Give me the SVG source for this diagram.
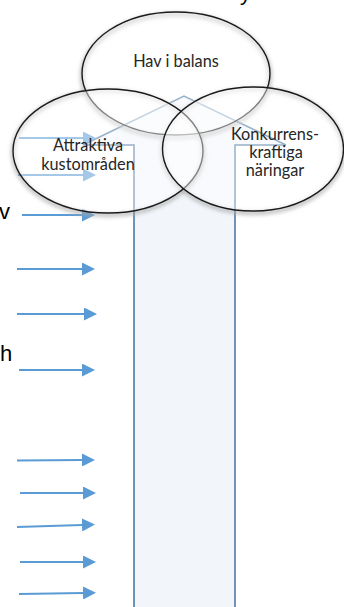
<svg xmlns="http://www.w3.org/2000/svg" width="344" height="607" viewBox="0 0 344 607">
<style>
.lbl{font-family:Lato,"Open Sans","Liberation Sans",sans-serif;font-size:16.3px;fill:#262626;text-anchor:middle}
.frag{font-family:"Liberation Sans",Arial,sans-serif;font-size:22px;fill:#000}
.ell{fill:#ffffff;fill-opacity:0.45;stroke:#1a1a1a;stroke-width:1.4}
.ellsh{fill:none;stroke:#a8a8a8;stroke-width:3;filter:url(#blur)}
.arr{stroke:#5B9BD5;stroke-width:2;fill:none;marker-end:url(#ah)}
.block{fill:#F2F6FB;stroke:#41719C;stroke-width:1.5}
</style>
<defs>
<filter id="blur" x="-10%" y="-10%" width="120%" height="130%"><feGaussianBlur stdDeviation="2"/></filter>
<marker id="ah" viewBox="0 0 13 13" markerWidth="13" markerHeight="13" markerUnits="userSpaceOnUse" refX="0" refY="6.5" orient="auto"><path d="M0,0 L13,6.5 L0,13 z" fill="#5B9BD5"/></marker>
</defs>
<rect width="344" height="607" fill="#ffffff"/>
<text class="frag" x="240" y="0">y</text>
<g id="block-arrow"><path class="block" d="M134,612 L134,145 L83,145 L184,96 L286,145 L235,145 L235,612"/></g>
<g id="connectors">
<line class="arr" x1="19" y1="138" x2="83" y2="138"/>
<line class="arr" x1="18" y1="175" x2="83" y2="175"/>
<line class="arr" x1="22" y1="215" x2="82" y2="215"/>
<line class="arr" x1="17" y1="269" x2="82" y2="269"/>
<line class="arr" x1="17" y1="314" x2="84" y2="314"/>
<line class="arr" x1="19" y1="370" x2="82" y2="370"/>
<line class="arr" x1="17" y1="460.5" x2="82" y2="460"/>
<line class="arr" x1="20" y1="493" x2="83" y2="493"/>
<line class="arr" x1="17" y1="527" x2="82" y2="525"/>
<line class="arr" x1="20" y1="562" x2="83" y2="562"/>
<line class="arr" x1="19" y1="594" x2="83" y2="593"/>
</g>
<g id="shadows">
<ellipse class="ellsh" cx="176" cy="76" rx="94" ry="61.5"/>
<ellipse class="ellsh" cx="108" cy="153" rx="95" ry="62"/>
<ellipse class="ellsh" cx="253" cy="151" rx="90.5" ry="62"/>
</g>
<g id="hav-i-balans"><ellipse class="ell" cx="176" cy="73.5" rx="94" ry="61.5"/></g>
<g id="attraktiva-kustomraden"><ellipse class="ell" cx="108" cy="151" rx="95" ry="62"/></g>
<g id="konkurrenskraftiga-naringar"><ellipse class="ell" cx="253" cy="149" rx="90.5" ry="62"/></g>
<g id="labels">
<text class="lbl" x="176" y="67">Hav i balans</text>
<text class="lbl" x="88" y="151">Attraktiva</text>
<text class="lbl" x="88" y="170">kustområden</text>
<text class="lbl" x="275" y="140">Konkurrens-</text>
<text class="lbl" x="276" y="158">kraftiga</text>
<text class="lbl" x="275" y="176">näringar</text>
</g>
<text class="frag" x="-1" y="219">v</text>
<text class="frag" x="0" y="361">h</text>
</svg>
